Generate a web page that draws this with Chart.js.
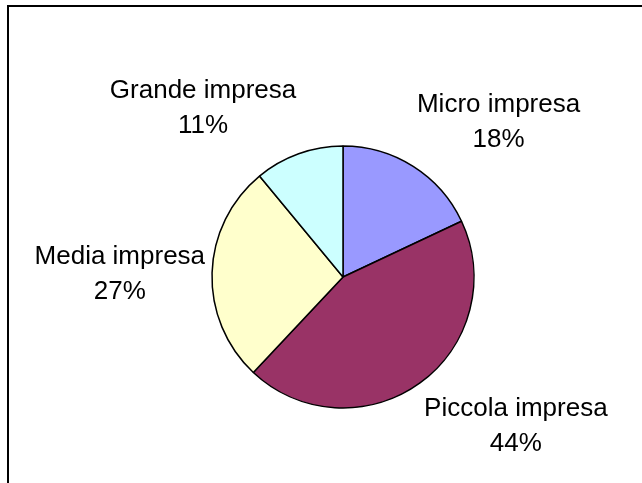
<!DOCTYPE html>
<html>
<head>
<meta charset="utf-8">
<script src="https://cdn.jsdelivr.net/npm/chart.js@4.4.1/dist/chart.umd.min.js"></script>
<style>
  body { margin: 0; background: #fff; }
  .wrap { position: relative; width: 642px; height: 483px; overflow: hidden; }
  .frame { position: absolute; left: 7px; top: 5px; width: 700px; height: 600px;
           border-top: 2px solid #000; border-left: 2px solid #000; }
  canvas { position: absolute; left: 0; top: 0; }
</style>
</head>
<body>
<div class="wrap">
  <div class="frame"></div>
  <canvas id="myChart" width="642" height="483"></canvas>
</div>
<script>
const categories = ['Micro impresa', 'Piccola impresa', 'Media impresa', 'Grande impresa'];
const shares = [18, 44, 27, 11];
const sliceColors = ['#9999FF', '#993366', '#FFFFCC', '#CCFFFF'];

// labels outside the pie, like the old office chart
const outsideLabels = {
  id: 'outsideLabels',
  afterDatasetsDraw(chart) {
    const ctx = chart.ctx;
    const arcs = chart.getDatasetMeta(0).data;
    const total = shares.reduce((a, b) => a + b, 0);
    const lineH = 35;
    ctx.save();
    ctx.font = '26px "Liberation Sans", Arial, sans-serif';
    ctx.fillStyle = '#000';
    ctx.textAlign = 'center';
    ctx.textBaseline = 'alphabetic';
    arcs.forEach((arc, i) => {
      const p = arc.getProps(['x', 'y', 'startAngle', 'endAngle', 'outerRadius'], true);
      const mid = (p.startAngle + p.endAngle) / 2;
      const ux = Math.cos(mid), uy = Math.sin(mid);
      const ax = p.x + ux * (p.outerRadius + 7);
      const ay = p.y + uy * (p.outerRadius + 17);
      const lines = [categories[i], Math.round(shares[i] / total * 100) + '%'];
      const w = Math.max(...lines.map(l => ctx.measureText(l).width));
      let cx;
      if (ux > 0.3) cx = ax + w / 2;
      else if (ux < -0.3) cx = ax - w / 2;
      else cx = ax;
      let b1;
      if (uy < -0.3) b1 = ay - 5 - lineH;
      else if (uy > 0.3) b1 = ay + 19;
      else b1 = ay - 8;
      lines.forEach((l, k) => ctx.fillText(l, cx, b1 + k * lineH));
    });
    ctx.restore();
  }
};

let ctx = document.getElementById('myChart').getContext('2d');
let chart = new Chart(ctx, {
  type: 'pie',
  data: {
    labels: categories,
    datasets: [{
      data: shares,
      backgroundColor: sliceColors,
      borderColor: '#000',
      borderWidth: 1.5
    }]
  },
  options: {
    responsive: false,
    animation: false,
    radius: 131,
    layout: { padding: { left: 200, right: 156, top: 140, bottom: 69 } },
    plugins: {
      legend: { display: false },
      tooltip: { enabled: false }
    }
  },
  plugins: [outsideLabels]
});
</script>
</body>
</html>
